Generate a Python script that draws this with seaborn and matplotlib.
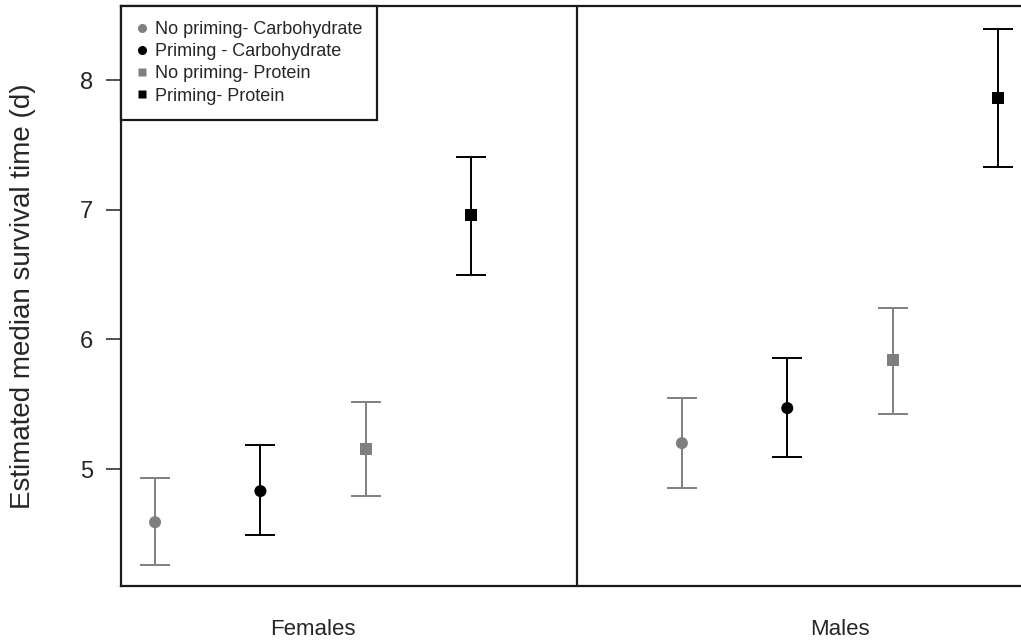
import matplotlib
matplotlib.use("Agg")
import matplotlib.pyplot as plt
import seaborn as sns
import pandas as pd
from matplotlib.lines import Line2D

# Data
sexes = ["Females", "Males"]
groups = ["No priming- Carbohydrate", "Priming - Carbohydrate",
          "No priming- Protein", "Priming- Protein"]
median_f = [4.59, 4.83, 5.155, 6.96]
lower_f = [4.26, 4.49, 4.795, 6.50]
upper_f = [4.93, 5.185, 5.515, 7.41]
median_m = [5.20, 5.47, 5.84, 7.86]
lower_m = [4.85, 5.09, 5.425, 7.33]
upper_m = [5.55, 5.855, 6.245, 8.39]
yticks = [5, 6, 7, 8]

colors = {groups[0]: "#7f7f7f", groups[1]: "#000000",
          groups[2]: "#7f7f7f", groups[3]: "#000000"}
markers = {groups[0]: "o", groups[1]: "o", groups[2]: "s", groups[3]: "s"}

rows = []
for si, (sex, med, lo, up) in enumerate(zip(sexes, [median_f, median_m],
                                            [lower_f, lower_m], [upper_f, upper_m])):
    for gi, g in enumerate(groups):
        rows.append(dict(sex=sex, group=g, pos=si * 5 + gi + 1,
                         median=med[gi], lower=lo[gi], upper=up[gi]))
df = pd.DataFrame(rows)

sns.set_style("white")
plt.rcParams["font.family"] = ["Liberation Sans", "DejaVu Sans"]

fig = plt.figure(figsize=(10.21, 6.4), dpi=100)
ax = fig.add_axes([121 / 1021, 54 / 640, 900 / 1021, 580 / 640])

for _, r in df.iterrows():
    ax.errorbar(r["pos"], r["median"],
                yerr=[[r["median"] - r["lower"]], [r["upper"] - r["median"]]],
                fmt="none", ecolor=colors[r["group"]], elinewidth=1.4,
                capsize=11, capthick=1.4, zorder=2)

sns.scatterplot(data=df, x="pos", y="median", hue="group", style="group",
                palette=colors, markers=markers, s=75, edgecolor="none",
                linewidth=0, ax=ax, legend=False, zorder=3)

ax.set_xlim(0.677, 9.218)
ax.set_ylim(4.098, 8.571)
ax.axvline(5, color="#1a1a1a", lw=1.6, zorder=1)

ax.set_yticks(yticks)
ax.set_yticklabels([str(t) for t in yticks])
ax.set_xticks([2.5, 7.5])
ax.set_xticklabels(sexes)
ax.tick_params(axis="y", length=11, width=1.2, color="#333333", pad=9,
               labelsize=17, left=True)
ax.tick_params(axis="x", length=0, pad=24, labelsize=16)
ax.set_xlabel("")
ax.set_ylabel("Estimated median survival time (d)", fontsize=20)
ax.yaxis.set_label_coords(-0.094, 0.5)

for side in ["left", "bottom", "top"]:
    ax.spines[side].set_color("#1a1a1a")
    ax.spines[side].set_linewidth(1.6)
ax.spines["right"].set_visible(False)

handles = [Line2D([0], [0], marker=markers[g], color="none",
                  markerfacecolor=colors[g], markeredgecolor="none",
                  markersize=6.5 if markers[g] == "o" else 6) for g in groups]
leg = ax.legend(handles, groups, loc="upper left", bbox_to_anchor=(0, 1),
                borderaxespad=0, fontsize=13, frameon=True, fancybox=False,
                framealpha=1, edgecolor="#1a1a1a", handlelength=0.6,
                handletextpad=0.42, labelspacing=0.28, borderpad=0.85)
leg.get_frame().set_linewidth(1.6)

fig.savefig("out.png", dpi=100)
